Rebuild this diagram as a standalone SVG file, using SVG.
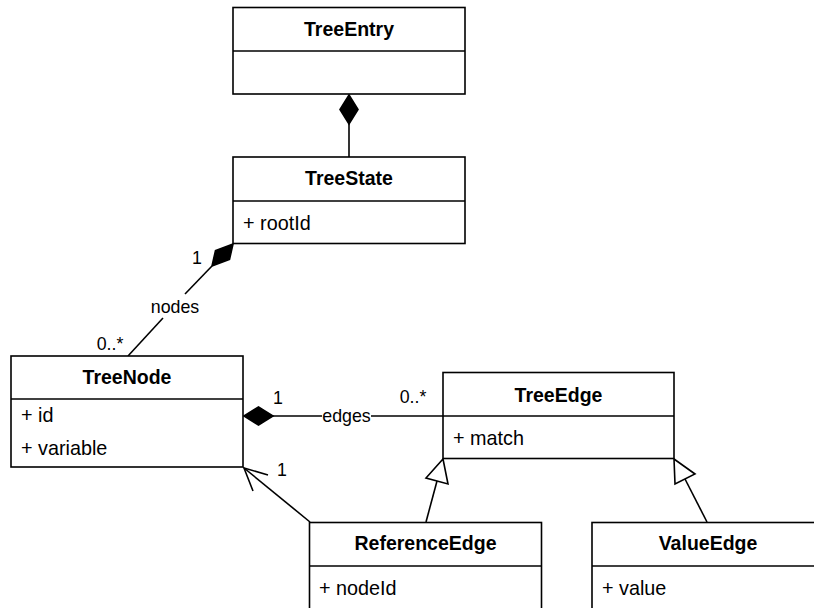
<svg xmlns="http://www.w3.org/2000/svg" width="814" height="608" viewBox="0 0 814 608">
<style>
.box{fill:#fff;stroke:#000;stroke-width:1.6}
.sep{stroke:#000;stroke-width:1.6}
.title{font-family:"Liberation Sans",Arial,sans-serif;font-size:19.5px;font-weight:bold;text-anchor:middle;fill:#000}
.attr{font-family:"Liberation Sans",Arial,sans-serif;font-size:19.8px;fill:#000}
.lbl{font-family:"Liberation Sans",Arial,sans-serif;font-size:17.8px;fill:#000;text-anchor:middle}
.edge{fill:none;stroke:#000;stroke-width:1.6}
.solid{fill:#000;stroke:#000;stroke-width:1.6}
.hollow{fill:#fff;stroke:#000;stroke-width:1.6}
</style>
<rect width="814" height="608" fill="#fff"/>
<g id="connectors">
  <!-- TreeEntry - TreeState composition -->
  <line class="edge" x1="349" y1="124" x2="349" y2="157"/>
  <polygon class="solid" points="349,95 358,109.5 349,124 340,109.5"/>
  <!-- TreeState - TreeNode composition -->
  <line class="edge" x1="212" y1="266" x2="185" y2="294"/>
  <line class="edge" x1="163" y1="318" x2="128" y2="356"/>
  <polygon class="solid" points="233,244 229.5,259.5 212,266 215.5,250.5"/>
  <text class="lbl" x="197" y="264">1</text>
  <text class="lbl" x="175" y="313">nodes</text>
  <text class="lbl" x="110" y="350">0..*</text>
  <!-- TreeNode - TreeEdge composition -->
  <line class="edge" x1="273" y1="416" x2="443" y2="416"/>
  <polygon class="solid" points="244,416 258.5,407 273,416 258.5,425"/>
  <rect x="322" y="405" width="49" height="22" fill="#fff"/>
  <text class="lbl" x="346.5" y="422">edges</text>
  <text class="lbl" x="278" y="404">1</text>
  <text class="lbl" x="413" y="403">0..*</text>
  <!-- ReferenceEdge -> TreeNode association -->
  <line class="edge" x1="310" y1="522" x2="244" y2="468"/>
  <polyline class="edge" points="268,475 244,468 253,491"/>
  <text class="lbl" x="282" y="476">1</text>
  <!-- ReferenceEdge generalization -->
  <line class="edge" x1="426" y1="522" x2="437" y2="481"/>
  <polygon class="hollow" points="443,459 448,484 426,478"/>
  <!-- ValueEdge generalization -->
  <line class="edge" x1="707" y1="522" x2="685" y2="479"/>
  <polygon class="hollow" points="674,459 695,474 675,484"/>
</g>
<g id="TreeEntry">
  <rect class="box" x="233" y="7.5" width="232" height="86.5"/>
  <line class="sep" x1="233" y1="51" x2="465" y2="51"/>
  <text class="title" x="349" y="36">TreeEntry</text>
</g>
<g id="TreeState">
  <rect class="box" x="233" y="157" width="232" height="86.5"/>
  <line class="sep" x1="233" y1="201" x2="465" y2="201"/>
  <text class="title" x="349" y="185">TreeState</text>
  <text class="attr" x="243" y="230">+ rootId</text>
</g>
<g id="TreeNode">
  <rect class="box" x="11" y="356" width="232" height="111"/>
  <line class="sep" x1="11" y1="399" x2="243" y2="399"/>
  <text class="title" x="127" y="384">TreeNode</text>
  <text class="attr" x="21" y="422">+ id</text>
  <text class="attr" x="21" y="455">+ variable</text>
</g>
<g id="TreeEdge">
  <rect class="box" x="443" y="372.5" width="231" height="86"/>
  <line class="sep" x1="443" y1="416" x2="674" y2="416"/>
  <text class="title" x="558.5" y="402">TreeEdge</text>
  <text class="attr" x="453" y="445">+ match</text>
</g>
<g id="ReferenceEdge">
  <rect class="box" x="309.5" y="522.5" width="232" height="120"/>
  <line class="sep" x1="309.5" y1="566" x2="541.5" y2="566"/>
  <text class="title" x="425.5" y="550">ReferenceEdge</text>
  <text class="attr" x="319" y="595">+ nodeId</text>
</g>
<g id="ValueEdge">
  <rect class="box" x="592" y="522.5" width="232" height="120"/>
  <line class="sep" x1="592" y1="566" x2="824" y2="566"/>
  <text class="title" x="708" y="550">ValueEdge</text>
  <text class="attr" x="602" y="595">+ value</text>
</g>
</svg>
